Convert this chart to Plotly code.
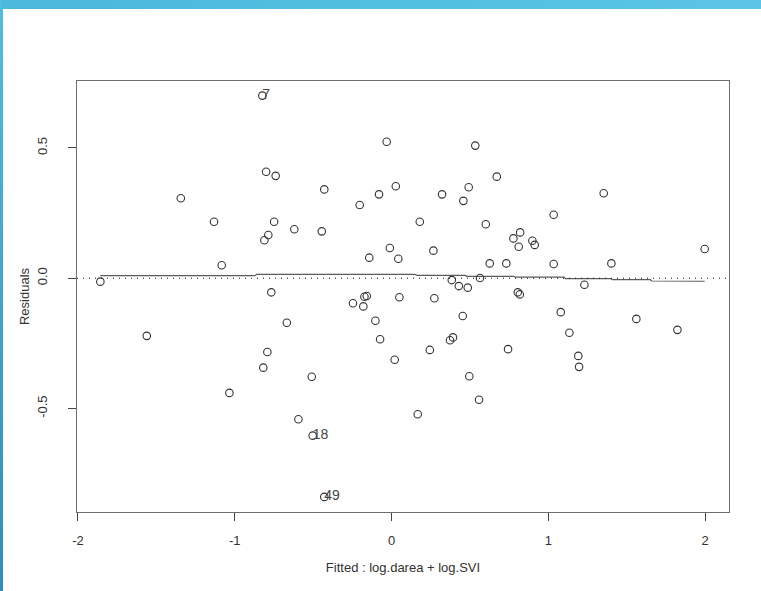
import base64
import plotly.graph_objects as go

# Fitted values (log.darea + log.SVI model) and their residuals
fitted = [
    -0.824, -0.800, -0.739, -1.344, -1.132, -0.749, -0.786, -0.811, -0.620, -1.083,
    -1.857, -0.767, -0.031, 0.534, 0.671, -0.429, 0.027, -0.080, -0.203, 0.322,
    0.492, 0.458, 0.180, 0.601, -0.445, 0.777, 0.820, 0.811, 0.898, 0.913,
    -0.011, -0.142, 0.043, 0.267, 0.626, 0.732, 0.384, 0.429, 0.486, 0.564,
    0.805, 0.818, -0.173, -0.158, 0.050, 0.273, 1.353, 1.034, 1.997, 1.034,
    1.402, 1.230, -1.561, -0.668, -0.792, -0.818, -1.034, -0.509, -0.594, -0.503,
    -0.246, -0.180, -0.103, -0.073, 0.454, 0.373, 0.392, 0.244, 0.020, 0.743,
    0.496, 0.558, 0.167, -0.429, 1.079, 1.561, 1.823, 1.134, 1.191, 1.196,
]
residuals = [
    0.701, 0.409, 0.393, 0.307, 0.217, 0.217, 0.166, 0.146, 0.188, 0.050,
    -0.013, -0.054, 0.524, 0.509, 0.390, 0.341, 0.353, 0.322, 0.281, 0.322,
    0.349, 0.297, 0.217, 0.207, 0.180, 0.153, 0.176, 0.121, 0.144, 0.128,
    0.116, 0.079, 0.075, 0.106, 0.057, 0.057, -0.007, -0.030, -0.036, 0.001,
    -0.054, -0.062, -0.071, -0.068, -0.073, -0.077, 0.326, 0.244, 0.112, 0.055,
    0.057, -0.025, -0.221, -0.171, -0.283, -0.343, -0.440, -0.378, -0.541, -0.604,
    -0.096, -0.108, -0.163, -0.234, -0.145, -0.238, -0.227, -0.275, -0.313, -0.272,
    -0.376, -0.466, -0.522, -0.839, -0.130, -0.156, -0.198, -0.209, -0.298, -0.340,
]
# Observations flagged with their case numbers
flag_index = [0, 59, 73]
flag_label = ["7", "18", "49"]

# Scatterplot smoother through the residuals
smooth_x = [-1.857, -0.87, -0.86, 0.15, 0.16, 0.47, 0.48, 0.78, 0.79, 1.10, 1.11, 1.40, 1.41, 1.65, 1.66, 1.997]
smooth_y = [0.010, 0.010, 0.015, 0.015, 0.011, 0.011, 0.0075, 0.0075, 0.004, 0.004, -0.0015, -0.0015, -0.0055, -0.0055, -0.0105, -0.0115]

x_ticks = [-2, -1, 0, 1, 2]
y_ticks = [-0.5, 0.0, 0.5]
y_tick_text = ["-0.5", "0.0", "0.5"]

W, H = 761, 591
ML, MR, MT, MB = 77, 32, 81, 79
TXT = "#333333"
FONT = "Liberation Sans, Arial, sans-serif"

fig = go.Figure()

fig.add_trace(go.Scatter(
    x=smooth_x, y=smooth_y, mode="lines",
    line=dict(color="#5a5a5a", width=1.2),
    hoverinfo="skip", showlegend=False,
))

fig.add_trace(go.Scatter(
    x=fitted, y=residuals, mode="markers",
    marker=dict(symbol="circle-open", size=7.5, color="#333333", line=dict(width=1.1)),
    showlegend=False,
))

fig.add_trace(go.Scatter(
    x=[fitted[i] for i in flag_index],
    y=[residuals[i] for i in flag_index],
    mode="text", text=flag_label, textposition="middle right",
    textfont=dict(family=FONT, size=14, color="#444444"),
    showlegend=False, hoverinfo="skip",
))

# dotted reference line at zero residual
fig.add_shape(type="line", xref="paper", x0=0, x1=1, yref="y", y0=0, y1=0,
              line=dict(color="#111111", width=1, dash="1px,5px"))

# slide decoration: blue bands along the top and left edges
def grad_svg(c1, c2, vertical):
    if vertical:
        g = '<linearGradient id="g" x1="0" y1="0" x2="0" y2="1">'
    else:
        g = '<linearGradient id="g" x1="0" y1="0" x2="1" y2="0">'
    svg = ('<svg xmlns="http://www.w3.org/2000/svg" width="100" height="100" preserveAspectRatio="none">'
           '<defs>' + g + f'<stop offset="0" stop-color="{c1}"/><stop offset="1" stop-color="{c2}"/>'
           '</linearGradient></defs><rect width="100" height="100" fill="url(#g)"/></svg>')
    return "data:image/svg+xml;base64," + base64.b64encode(svg.encode()).decode()

pw = W - ML - MR
ph = H - MT - MB
def px_x(p):
    return (p - ML) / pw
def px_y(p):
    return 1 - (p - MT) / ph

fig.add_layout_image(dict(
    source=grad_svg("#4bb8dc", "#5ac5e4", False), xref="paper", yref="paper",
    x=px_x(0), y=px_y(0), sizex=W / pw, sizey=9 / ph,
    xanchor="left", yanchor="top", sizing="stretch", layer="above"))
fig.add_layout_image(dict(
    source=grad_svg("#4fbde0", "#2e8cc2", True), xref="paper", yref="paper",
    x=px_x(0), y=px_y(0), sizex=3 / pw, sizey=H / ph,
    xanchor="left", yanchor="top", sizing="stretch", layer="above"))

fig.update_xaxes(
    range=[-2.006, 2.152], tickvals=x_ticks, ticktext=[str(v) for v in x_ticks],
    showgrid=False, zeroline=False,
    showline=True, mirror=True, linecolor="#6e6e6e", linewidth=1.3,
    ticks="outside", ticklen=8, tickcolor="#444444", tickwidth=1,
    ticklabelstandoff=8,
    tickfont=dict(family=FONT, size=13, color=TXT),
    title=dict(text="Fitted : log.darea + log.SVI", font=dict(family=FONT, size=13, color=TXT), standoff=16),
)
fig.update_yaxes(
    range=[-0.897, 0.757], tickvals=y_ticks, ticktext=y_tick_text, tickangle=-90,
    showgrid=False, zeroline=False,
    showline=True, mirror=True, linecolor="#6e6e6e", linewidth=1.3,
    ticks="outside", ticklen=8, tickcolor="#444444", tickwidth=1,
    ticklabelstandoff=16,
    tickfont=dict(family=FONT, size=13, color=TXT),
    title=dict(text="Residuals", font=dict(family=FONT, size=13, color=TXT), standoff=2),
)

fig.update_layout(
    width=W, height=H,
    margin=dict(l=ML, r=MR, t=MT, b=MB, pad=0),
    paper_bgcolor="white", plot_bgcolor="white",
    showlegend=False,
)

fig.write_html("out.html")
